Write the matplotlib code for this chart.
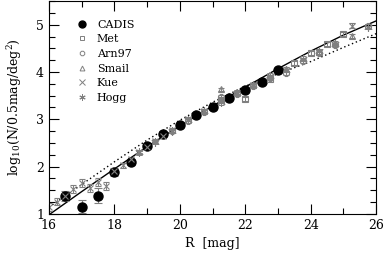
import numpy as np
import matplotlib.pyplot as plt
from matplotlib.ticker import MultipleLocator
from matplotlib.lines import Line2D

plt.rcParams['font.family'] = 'DejaVu Serif'
plt.rcParams['mathtext.fontset'] = 'dejavuserif'

# model curves
R_mod = [16, 17, 18, 19, 20, 21, 22, 23, 24, 25, 26]
mod_solid = [0.98, 1.47, 1.95, 2.42, 2.86, 3.28, 3.68, 4.07, 4.44, 4.78, 5.08]
mod_dot = [1.14, 1.62, 2.10, 2.56, 2.98, 3.36, 3.70, 3.96, 4.22, 4.52, 4.81]

# CADIS
R_cadis = [16.5, 17.0, 17.5, 18.0, 18.5, 19.0, 19.5, 20.0, 20.5, 21.0, 21.5, 22.0, 22.5, 23.0]
cadis = [1.38, 1.15, 1.38, 1.88, 2.09, 2.43, 2.68, 2.87, 3.10, 3.25, 3.46, 3.61, 3.78, 4.05]
cadis_err = [0.10, 0.14, 0.16, 0.08, 0.06, 0.04, 0.03, 0.03, 0.03, 0.03, 0.03, 0.03, 0.03, 0.03]

# literature counts
R_met = [21.25, 22.0, 22.75, 23.5, 24.0, 24.5, 25.0]
met = [3.40, 3.43, 3.86, 4.19, 4.40, 4.59, 4.80]

R_arn = [19.75, 20.25, 20.75, 21.25, 21.75, 22.25, 22.75, 23.25, 23.75, 24.25, 24.75, 25.75]
arn = [2.76, 2.97, 3.16, 3.48, 3.54, 3.70, 3.88, 3.98, 4.24, 4.40, 4.56, 4.97]

R_smail = [21.25, 22.25, 23.25, 24.25, 25.25]
smail = [3.63, 3.72, 4.06, 4.42, 4.76]

R_kue = [16.0, 16.25, 16.5, 16.75, 17.0, 17.25, 17.5, 17.75, 18.0, 18.25, 18.5,
         18.75, 19.0, 19.25, 19.5, 19.75, 20.25, 20.75, 21.25, 21.75, 22.25, 22.75, 25.25]
kue = [1.15, 1.26, 1.38, 1.53, 1.65, 1.55, 1.67, 1.59, 1.90, 2.03, 2.15,
       2.30, 2.42, 2.55, 2.65, 2.77, 3.00, 3.18, 3.40, 3.55, 3.72, 3.90, 4.98]
kue_err = [0.08, 0.08, 0.08, 0.08, 0.08, 0.08, 0.08, 0.08, 0.06, 0.05, 0.05,
           0.04, 0.04, 0.04, 0.04, 0.04, 0.04, 0.04, 0.04, 0.04, 0.04, 0.04, 0.05]

R_hogg = [18.75, 19.25, 19.75, 20.25, 20.75, 21.25, 21.75, 22.25, 22.75,
          23.25, 23.75, 24.25, 24.75, 25.75]
hogg = [2.30, 2.52, 2.75, 2.98, 3.17, 3.36, 3.56, 3.72, 3.92,
        4.05, 4.28, 4.44, 4.60, 4.96]

gray = '#808080'
star = (6, 2, 0)

fig = plt.figure(figsize=(3.85, 2.58), dpi=100)
ax = fig.add_axes([0.127, 0.171, 0.85, 0.825])

ax.plot(R_mod, mod_solid, color='black', lw=1.0)
ax.plot(R_mod, mod_dot, color='black', lw=1.0, ls=(0, (1, 2)))

ebkw = dict(elinewidth=0.7, capsize=2.5, capthick=0.7)
ax.errorbar(R_kue, kue, yerr=kue_err, fmt='x', color=gray, ms=5, mew=0.8, **ebkw)
ax.errorbar(R_arn, arn, yerr=0.04, fmt='8', mfc='none', mec=gray, color=gray,
            ms=4.5, mew=0.8, **ebkw)
ax.errorbar(R_smail, smail, yerr=0.04, fmt='^', mfc='none', mec=gray, color=gray,
            ms=5, mew=0.8, **ebkw)
ax.errorbar(R_met, met, yerr=0.04, fmt='s', mfc='none', mec=gray, color=gray,
            ms=5, mew=0.8, **ebkw)
ax.errorbar(R_hogg, hogg, yerr=0.05, fmt='none', ecolor=gray, **ebkw)
ax.plot(R_hogg, hogg, ls='none', marker=star, color=gray, ms=6, mew=0.8)
ax.errorbar(R_cadis, cadis, yerr=cadis_err, fmt='none', ecolor=gray,
            elinewidth=0.8, capsize=3, capthick=0.8)
ax.plot(R_cadis, cadis, 'o', color='black', ms=6.5)

ax.set_xlim(16, 26)
ax.set_ylim(1, 5.5)
ax.xaxis.set_major_locator(MultipleLocator(2))
ax.xaxis.set_minor_locator(MultipleLocator(1))
ax.yaxis.set_major_locator(MultipleLocator(1))
ax.yaxis.set_minor_locator(MultipleLocator(0.25))
ax.tick_params(which='both', direction='in', top=True, right=True, labelsize=9)
ax.tick_params(which='major', length=7, width=0.8)
ax.tick_params(which='minor', length=4, width=0.8)
ax.set_xlabel('R  [mag]', fontsize=9)
ax.set_ylabel(r'log$_{10}$(N/0.5mag/deg$^2$)', fontsize=9, labelpad=9)

handles = [
    Line2D([], [], ls='none', marker='o', color='black', ms=5),
    Line2D([], [], ls='none', marker='s', mfc='none', mec=gray, ms=3.5, mew=0.7),
    Line2D([], [], ls='none', marker='8', mfc='none', mec=gray, ms=3.5, mew=0.7),
    Line2D([], [], ls='none', marker='^', mfc='none', mec=gray, ms=3.5, mew=0.7),
    Line2D([], [], ls='none', marker='x', color=gray, ms=4, mew=0.7),
    Line2D([], [], ls='none', marker=star, color=gray, ms=4.5, mew=0.7),
]
labels = ['CADIS', 'Met', 'Arn97', 'Smail', 'Kue', 'Hogg']
ax.legend(handles, labels, loc='upper left', frameon=False, fontsize=8,
          handlelength=1.0, handletextpad=0.8, labelspacing=0.42,
          bbox_to_anchor=(0.055, 0.96))

fig.savefig('out.png', dpi=100)
